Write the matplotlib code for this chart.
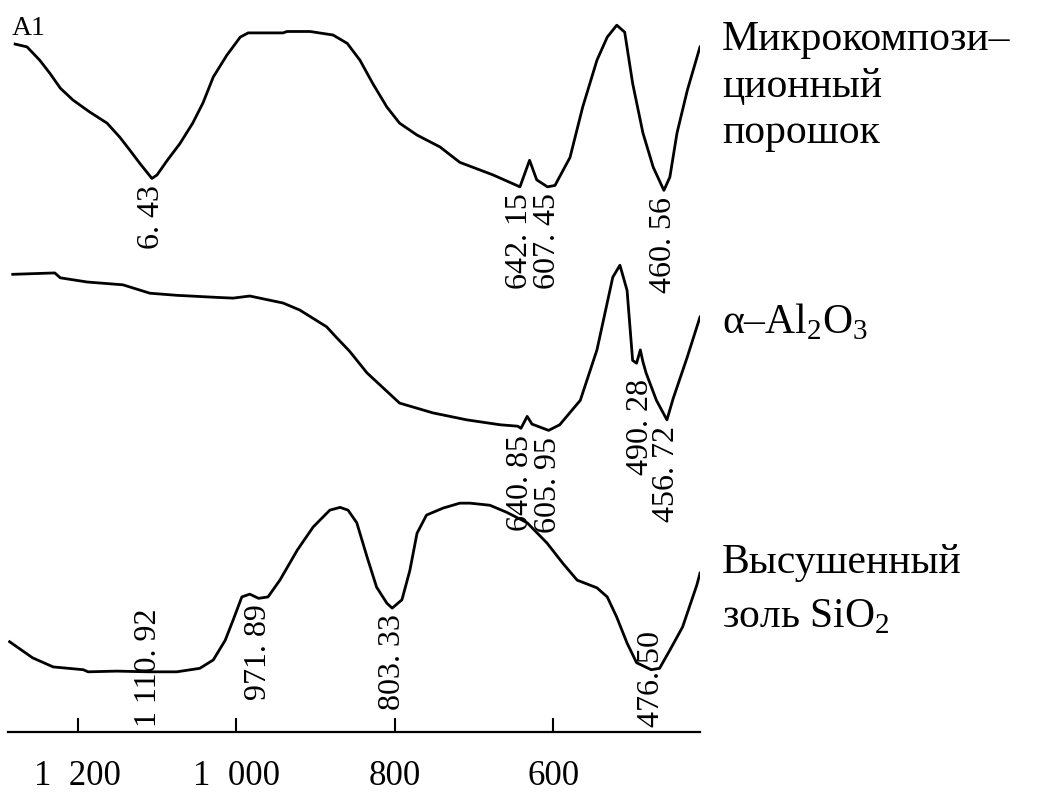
import numpy as np
import matplotlib
matplotlib.use("Agg")
import matplotlib.pyplot as plt

plt.rcParams['font.family'] = ['Liberation Serif', 'DejaVu Serif']
plt.rcParams['mathtext.fontset'] = 'custom'
plt.rcParams['mathtext.rm'] = 'Liberation Serif'

# ИК-спектры, волновое число (см-1) и пропускание (отн. ед.)
wn_comp = [1279, 1264, 1248, 1235, 1222, 1206, 1185, 1163, 1147, 1134, 1122, 1106.43, 1100, 1087,
           1071, 1055, 1042, 1029, 1012, 995, 985, 941, 936, 907, 878, 860, 844, 828, 810, 794,
           772, 743, 718, 676, 642.15, 630, 621, 607.45, 598, 579, 563, 545, 532, 520, 510, 500,
           487, 474, 460.56, 453, 444, 431, 415]
t_comp = [98.3, 97.9, 96.0, 94.1, 92.0, 90.3, 88.6, 87.0, 85.0, 83.1, 81.3, 79.1, 79.6, 81.7,
          84.1, 87.0, 89.9, 93.6, 96.7, 99.3, 99.9, 99.9, 100.1, 100.1, 99.6, 98.4, 96.0, 92.7, 89.3, 87.0,
          85.3, 83.6, 81.4, 79.6, 77.9, 81.7, 78.9, 77.9, 78.1, 82.1, 89.3, 96.0, 99.3, 101.0, 100.0, 92.7,
          85.6, 80.7, 77.4, 79.3, 85.6, 91.7, 97.9]

wn_al2o3 = [1282, 1229, 1222, 1188, 1143, 1109, 1075, 1024, 1004, 983, 941, 920, 886, 873, 857,
            835, 794, 752, 709, 667, 645, 640.85, 633, 627, 605.95, 592, 566, 545, 525, 516, 507,
            500, 495, 490.28, 487, 483, 470, 456.72, 449, 431, 415]
t_al2o3 = [65.4, 65.6, 64.9, 64.3, 63.9, 62.7, 62.4, 62.1, 62.0, 62.3, 61.3, 60.3, 57.9, 56.3, 54.4,
           51.3, 47.0, 45.6, 44.6, 43.9, 43.7, 43.4, 45.1, 44.0, 43.1, 43.9, 47.4, 54.6, 65.0, 66.7, 63.1,
           53.1, 52.7, 54.6, 52.9, 51.3, 47.4, 44.6, 47.6, 53.6, 59.3]

wn_sio2 = [1286, 1257, 1231, 1193, 1187, 1151, 1110.92, 1075, 1046, 1029, 1014, 1004, 993, 983,
           971.89, 960, 945, 923, 903, 882, 869, 859, 848, 835, 823, 810, 803.33, 791, 781, 772,
           760, 739, 718, 705, 680, 659, 633, 608, 588, 570, 545, 532, 520, 507, 495, 476.50,
           466, 453, 437, 419, 415]
t_sio2 = [12.9, 10.6, 9.3, 8.9, 8.6, 8.7, 8.6, 8.6, 9.1, 10.3, 13.1, 16.0, 19.3, 19.7,
          19.1, 19.3, 21.7, 26.0, 29.3, 31.7, 32.1, 31.7, 29.9, 25.0, 20.7, 18.4, 17.7, 18.9, 23.1, 28.4,
          31.0, 32.0, 32.7, 32.7, 32.4, 31.4, 29.9, 27.0, 24.1, 21.7, 20.6, 19.3, 16.4, 12.7, 9.9, 8.9,
          9.1, 11.7, 15.0, 21.0, 22.7]

# отмеченные полосы поглощения
peaks_comp = [1106.43, 642.15, 607.45, 460.56]
labels_comp = ["6. 43", "642. 15", "607. 45", "460. 56"]
peaks_al2o3 = [640.85, 605.95, 490.28, 456.72]
labels_al2o3 = ["640. 85", "605. 95", "490. 28", "456. 72"]
peaks_sio2 = [1110.92, 971.89, 803.33, 476.50]
labels_sio2 = ["1 110. 92", "971. 89", "803. 33", "476. 50"]

tick_pos = [1200, 1000, 800, 600]
tick_text = ["1  200", "1  000", "800", "600"]

fig = plt.figure(figsize=(10.38, 7.94), dpi=100)
ax = fig.add_axes([8 / 1038, 62 / 794, 692 / 1038, 732 / 794])

series = [(wn_comp, t_comp, peaks_comp, labels_comp),
          (wn_al2o3, t_al2o3, peaks_al2o3, labels_al2o3),
          (wn_sio2, t_sio2, peaks_sio2, labels_sio2)]

notes = []
for wn, t, peaks, labels in series:
    ax.plot(wn, t, color='black', lw=2.0, solid_joinstyle='round')
    wn_a = np.array(wn)
    t_a = np.array(t)
    for p, lab in zip(peaks, labels):
        near = np.abs(wn_a - p) <= 8
        y = t_a[near].min()
        a = ax.annotate(lab, xy=(p, y), xytext=(0, -4.5), textcoords='offset points',
                        rotation=90, ha='center', va='top', fontsize=23)
        notes.append(a)

ax.set_xlim(1288, 415)
ax.set_ylim(0, 104.6)
ax.set_yticks([])
for side in ['left', 'right', 'top']:
    ax.spines[side].set_visible(False)
ax.spines['bottom'].set_linewidth(1.6)
ax.set_xticks(tick_pos)
ax.set_xticklabels(tick_text)
ax.tick_params(axis='x', direction='in', length=10, width=1.5, pad=20, labelsize=25)
ax.patch.set_alpha(0)

# подписи, которые не помещаются над осью, поднимаем
fig.canvas.draw()
bottom = ax.get_window_extent().y0 + 5
for a in notes:
    bb = a.get_window_extent()
    if bb.y0 < bottom:
        dy = (bottom - bb.y0) * 72 / fig.dpi
        a.xyann = (0, a.xyann[1] + dy)

fig.text(12 / 1038, 1 - 35 / 794, "A1", fontsize=20, va='baseline')

fig.text(722 / 1038, 1 - 50 / 794, "Микрокомпози–", fontsize=30, va='baseline')
fig.text(722 / 1038, 1 - 97 / 794, "ционный", fontsize=30, va='baseline')
fig.text(722 / 1038, 1 - 143 / 794, "порошок", fontsize=30, va='baseline')
fig.text(722 / 1038, 1 - 333 / 794, r"α–Al$_2$O$_3$", fontsize=30, va='baseline')
fig.text(722 / 1038, 1 - 573 / 794, "Высушенный", fontsize=30, va='baseline')
fig.text(722 / 1038, 1 - 627 / 794, r"золь SiO$_2$", fontsize=30, va='baseline')

fig.savefig("out.png", dpi=100, facecolor='white')
